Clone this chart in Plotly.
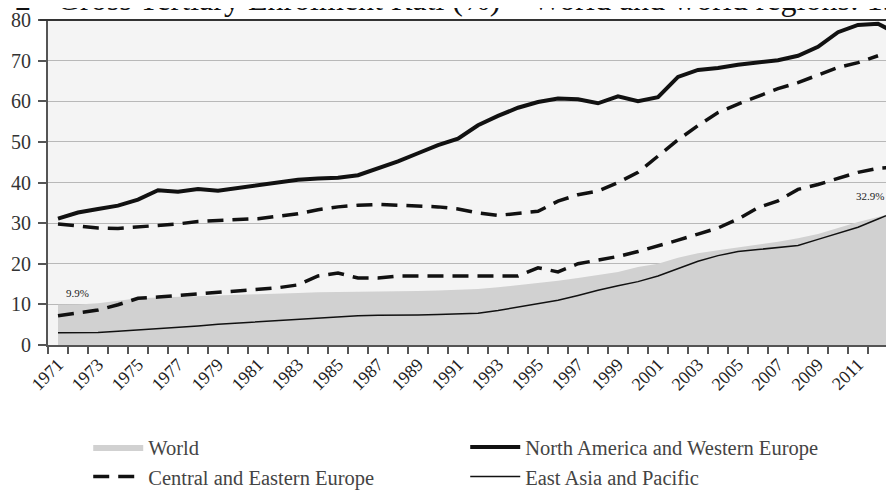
import plotly.graph_objects as go

# --- DATOS ---
YEARS = list(range(1971, 2014))

WORLD = [9.9, 10.0, 10.3, 10.9, 11.5, 11.7, 11.9, 12.1, 12.3, 12.4,
         12.5, 12.6, 12.8, 13.0, 13.0, 13.1, 13.2, 13.2, 13.3, 13.4,
         13.6, 13.8, 14.2, 14.7, 15.2, 15.8, 16.5, 17.3, 18.0, 19.2,
         20.0, 21.5, 22.6, 23.3, 24.0, 24.7, 25.4, 26.3, 27.3, 28.8,
         30.3, 31.5, 32.9]

NA_WEUROPE = [31.1, 32.6, 33.5, 34.3, 35.8, 38.1, 37.7, 38.4, 38.0, 38.7,
              39.5, 40.2, 40.7, 41.0, 41.2, 41.8, 43.5, 45.2, 47.2, 49.2,
              50.8, 54.1, 56.4, 58.4, 59.8, 60.7, 60.5, 59.5, 61.2, 60.0,
              61.0, 66.0, 67.7, 68.2, 69.0, 69.5, 70.1, 71.2, 73.4, 77.0,
              78.8, 79.1, 76.5]

C_E_EUROPE = [29.8, 29.2, 28.8, 28.7, 29.0, 29.4, 29.8, 30.4, 30.6, 30.7,
              31.1, 31.7, 32.3, 33.3, 34.0, 34.4, 34.6, 34.4, 34.2, 34.0,
              33.5, 32.5, 31.9, 32.3, 32.9, 35.4, 37.0, 37.9, 40.0, 42.5,
              46.5, 50.5, 54.0, 57.2, 59.3, 61.3, 63.1, 64.6, 66.4, 68.3,
              69.5, 71.2, None]

LATAM = [7.2, 7.8, 8.6, 9.9, 11.5, 11.8, 12.2, 12.5, 12.9, 13.3,
         13.7, 14.1, 14.8, 17.0, 17.7, 16.5, 16.5, 17.0, 17.0, 17.0,
         17.0, 17.0, 16.8, 17.0, 19.0, 18.0, 20.0, 20.8, 21.8, 23.0,
         24.3, 25.8, 27.3, 28.8, 31.0, 33.8, 35.5, 38.3, 39.5, 41.0,
         42.5, 43.5, 43.8]

EAST_ASIA = [3.0, 3.05, 3.1, 3.4, 3.7, 4.0, 4.3, 4.7, 5.1, 5.4,
             5.8, 6.1, 6.4, 6.7, 7.0, 7.2, 7.3, 7.3, 7.4, 7.5,
             7.6, 7.8, 8.5, 9.3, 10.1, 11.0, 12.2, 13.5, 14.6, 15.6,
             17.0, 18.8, 20.6, 22.0, 23.0, 23.5, 24.0, 24.5, 26.0, 27.5,
             29.0, 31.0, 33.0]

X_LABELS = [str(a) for a in range(1971, 2014, 2)]
Y_TICKS = [0, 10, 20, 30, 40, 50, 60, 70, 80]

SERIF = "Liberation Serif, Times New Roman, serif"

fig = go.Figure()

fig.add_trace(go.Scatter(x=YEARS, y=WORLD, name='World', mode='lines',
                         fill='tozeroy', fillcolor='#d1d1d1',
                         line=dict(width=0, color='#d1d1d1')))
fig.add_trace(go.Scatter(x=YEARS, y=NA_WEUROPE, name='North America and Western Europe',
                         mode='lines', line=dict(color='#111111', width=4)))
fig.add_trace(go.Scatter(x=YEARS, y=C_E_EUROPE, name='Central and Eastern Europe',
                         mode='lines', line=dict(color='#111111', width=3.5, dash='16px,9px')))
fig.add_trace(go.Scatter(x=YEARS, y=EAST_ASIA, name='East Asia and Pacific',
                         mode='lines', line=dict(color='#111111', width=1.5)))
fig.add_trace(go.Scatter(x=YEARS, y=LATAM, name='Latin America and the Caribbean',
                         mode='lines', showlegend=False,
                         line=dict(color='#111111', width=3.5, dash='16px,9px')))

# etiquetas de valores
fig.add_annotation(x=1971.95, y=12.9, text='9.9%', showarrow=False,
                   font=dict(family=SERIF, size=11, color='#222'))
fig.add_annotation(x=2011.6, y=36.6, text='32.9%', showarrow=False,
                   font=dict(family=SERIF, size=11, color='#222'))

# titulo (cortado arriba en el original)
fig.add_annotation(xref='paper', yref='paper', x=-0.0418, y=1.0646, xanchor='left',
                   yanchor='middle', text='2', showarrow=False,
                   font=dict(family=SERIF, size=32, color='#111'))
fig.add_annotation(xref='paper', yref='paper', x=0.0084, y=1.0646, xanchor='left',
                   yanchor='middle', showarrow=False,
                   text='Gross Tertiary Enrolment Rati (%) \u2013 World and world regions: 1971\u20132013',
                   font=dict(family=SERIF, size=32, color='#111'))

# la pagina tiene 8px de margen en body: se compensa en el tamaño
fig.update_layout(
    width=878, height=483,
    margin=dict(l=40, r=0, t=12, b=146, autoexpand=False),
    paper_bgcolor='white', plot_bgcolor='#f4f4f4',
    showlegend=True,
    legend=dict(orientation='h', x=0.048, y=-0.2525, xanchor='left', yanchor='top',
                entrywidth=312, entrywidthmode='pixels', itemwidth=50,
                tracegroupgap=0, bgcolor='rgba(0,0,0,0)',
                font=dict(family=SERIF, size=20.5, color='#444')),
    xaxis=dict(range=[1970.5, 2012.4], tickvals=list(range(1971, 2014, 2)), ticktext=X_LABELS,
               tickangle=-45, ticks='', showgrid=False, zeroline=False,
               showline=True, linecolor='#555', linewidth=2,
               tickfont=dict(family=SERIF, size=18, color='#222'),
               minor=dict(tickvals=[a + 0.5 for a in range(1970, 2013)], ticks='outside',
                          ticklen=7, tickcolor='#555', tickwidth=1.5, showgrid=False)),
    yaxis=dict(range=[0, 80], tickvals=Y_TICKS, ticks='outside', ticklen=8,
               tickcolor='#555', tickwidth=1.5, showline=True, linecolor='#555', linewidth=2,
               gridcolor='#b8b8b8', gridwidth=1.2, zeroline=False, ticklabelstandoff=3,
               tickfont=dict(family=SERIF, size=20, color='#333')),
)
fig.add_shape(type='line', xref='paper', yref='paper', x0=-0.01, x1=1, y0=1, y1=1,
              line=dict(color='#333', width=2))

fig.write_html("out.html")
